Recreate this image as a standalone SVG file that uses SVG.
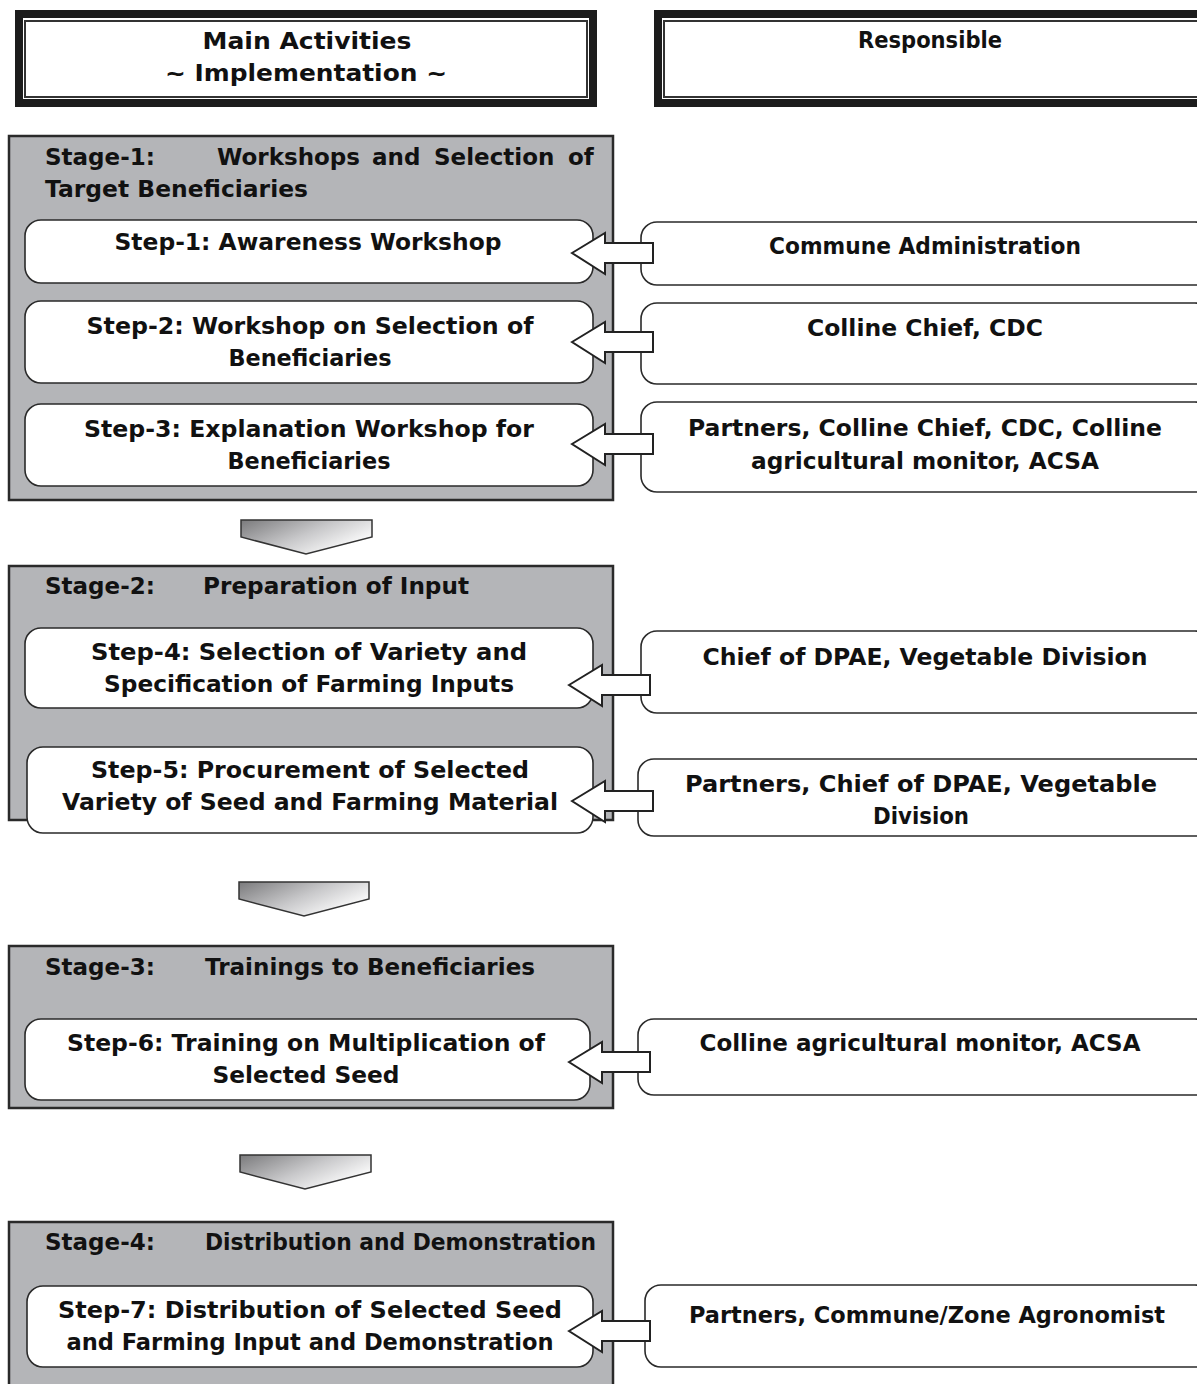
<svg xmlns="http://www.w3.org/2000/svg" width="1197" height="1384" viewBox="0 0 1197 1384">
  <defs>
    <linearGradient id="chevGrad" x1="0" y1="0" x2="1" y2="0.6">
      <stop offset="0" stop-color="#7a7a7c"/>
      <stop offset="0.55" stop-color="#c8c8ca"/>
      <stop offset="1" stop-color="#ffffff"/>
    </linearGradient>
    <style>
      .txt { font-family: "DejaVu Sans", "Liberation Sans", sans-serif; font-weight: bold; font-size: 23px; fill: #111; }
      .mid { text-anchor: middle; }
      .hdrOuter { fill: none; stroke: #1c1c1c; stroke-width: 8; }
      .hdrInner { fill: #fff; stroke: #333; stroke-width: 2; }
      .stage { fill: #b4b5b8; stroke: #2a2a2a; stroke-width: 2.5; }
      .step { fill: #fff; stroke: #2a2a2a; stroke-width: 1.6; }
      .resp { fill: #fff; stroke: #2a2a2a; stroke-width: 1.6; }
      .arrow { fill: #fff; stroke: #222; stroke-width: 2; stroke-linejoin: miter; }
      .chev { fill: url(#chevGrad); stroke: #333; stroke-width: 1.5; }
    </style>
  </defs>

  <rect width="1197" height="1384" fill="#fff"/>

  <!-- Column headers -->
  <g id="header-activities">
    <rect class="hdrOuter" x="19" y="14" width="574" height="89"/>
    <rect class="hdrInner" x="25" y="21" width="562" height="76"/>
    <text class="txt mid" x="307" y="49" textLength="209" lengthAdjust="spacingAndGlyphs">Main Activities</text>
    <text class="txt mid" x="306" y="81" textLength="282" lengthAdjust="spacingAndGlyphs">~ Implementation ~</text>
  </g>
  <g id="header-responsible">
    <rect class="hdrOuter" x="658" y="14" width="560" height="89"/>
    <rect class="hdrInner" x="664" y="21" width="548" height="76"/>
    <text class="txt mid" x="930" y="48" textLength="144" lengthAdjust="spacingAndGlyphs">Responsible</text>
  </g>

  <!-- Stage 1 -->
  <g id="stage-1">
    <rect class="stage" x="9" y="136" width="604" height="364"/>
    <text class="txt" y="165"><tspan x="45">Stage-1:</tspan><tspan x="217">Workshops</tspan><tspan x="372">and</tspan><tspan x="434">Selection</tspan><tspan x="568">of</tspan></text>
    <text class="txt" x="45" y="197" textLength="263" lengthAdjust="spacingAndGlyphs">Target Beneficiaries</text>
  </g>
  <g id="step-1">
    <rect class="step" x="25" y="220" width="568" height="63" rx="16"/>
    <text class="txt mid" x="308" y="250" textLength="387" lengthAdjust="spacingAndGlyphs">Step-1: Awareness Workshop</text>
  </g>
  <g id="step-2">
    <rect class="step" x="25" y="301" width="568" height="82" rx="16"/>
    <text class="txt mid" x="310" y="334" textLength="447" lengthAdjust="spacingAndGlyphs">Step-2: Workshop on Selection of</text>
    <text class="txt mid" x="310" y="366" textLength="163" lengthAdjust="spacingAndGlyphs">Beneficiaries</text>
  </g>
  <g id="step-3">
    <rect class="step" x="25" y="404" width="568" height="82" rx="16"/>
    <text class="txt mid" x="309" y="437" textLength="450" lengthAdjust="spacingAndGlyphs">Step-3: Explanation Workshop for</text>
    <text class="txt mid" x="309" y="469" textLength="163" lengthAdjust="spacingAndGlyphs">Beneficiaries</text>
  </g>

  <!-- Stage 2 -->
  <g id="stage-2">
    <rect class="stage" x="9" y="566" width="604" height="254"/>
    <text class="txt" y="594"><tspan x="45">Stage-2:</tspan><tspan x="203" textLength="266" lengthAdjust="spacingAndGlyphs">Preparation of Input</tspan></text>
  </g>
  <g id="step-4">
    <rect class="step" x="25" y="628" width="568" height="80" rx="16"/>
    <text class="txt mid" x="309" y="660" textLength="436" lengthAdjust="spacingAndGlyphs">Step-4: Selection of Variety and</text>
    <text class="txt mid" x="309" y="692" textLength="410" lengthAdjust="spacingAndGlyphs">Specification of Farming Inputs</text>
  </g>
  <g id="step-5">
    <rect class="step" x="27" y="747" width="566" height="86" rx="16"/>
    <text class="txt mid" x="310" y="778" textLength="438" lengthAdjust="spacingAndGlyphs">Step-5: Procurement of Selected</text>
    <text class="txt mid" x="310" y="810" textLength="496" lengthAdjust="spacingAndGlyphs">Variety of Seed and Farming Material</text>
  </g>

  <!-- Stage 3 -->
  <g id="stage-3">
    <rect class="stage" x="9" y="946" width="604" height="162"/>
    <text class="txt" y="975"><tspan x="45">Stage-3:</tspan><tspan x="205" textLength="330" lengthAdjust="spacingAndGlyphs">Trainings to Beneficiaries</tspan></text>
  </g>
  <g id="step-6">
    <rect class="step" x="25" y="1019" width="565" height="81" rx="16"/>
    <text class="txt mid" x="306" y="1051" textLength="478" lengthAdjust="spacingAndGlyphs">Step-6: Training on Multiplication of</text>
    <text class="txt mid" x="306" y="1083" textLength="187" lengthAdjust="spacingAndGlyphs">Selected Seed</text>
  </g>

  <!-- Stage 4 -->
  <g id="stage-4">
    <rect class="stage" x="9" y="1222" width="604" height="175"/>
    <text class="txt" y="1250"><tspan x="45">Stage-4:</tspan><tspan x="205" textLength="391" lengthAdjust="spacingAndGlyphs">Distribution and Demonstration</tspan></text>
  </g>
  <g id="step-7">
    <rect class="step" x="27" y="1286" width="566" height="81" rx="16"/>
    <text class="txt mid" x="310" y="1318" textLength="504" lengthAdjust="spacingAndGlyphs">Step-7: Distribution of Selected Seed</text>
    <text class="txt mid" x="310" y="1350" textLength="487" lengthAdjust="spacingAndGlyphs">and Farming Input and Demonstration</text>
  </g>

  <!-- Responsible parties -->
  <g id="resp-1">
    <rect class="resp" x="641" y="222" width="570" height="63" rx="16"/>
    <text class="txt mid" x="925" y="254" textLength="312" lengthAdjust="spacingAndGlyphs">Commune Administration</text>
  </g>
  <g id="resp-2">
    <rect class="resp" x="641" y="303" width="570" height="81" rx="16"/>
    <text class="txt mid" x="925" y="336" textLength="236" lengthAdjust="spacingAndGlyphs">Colline Chief, CDC</text>
  </g>
  <g id="resp-3">
    <rect class="resp" x="641" y="402" width="570" height="90" rx="16"/>
    <text class="txt mid" x="925" y="436" textLength="474" lengthAdjust="spacingAndGlyphs">Partners, Colline Chief, CDC, Colline</text>
    <text class="txt mid" x="925" y="469" textLength="348" lengthAdjust="spacingAndGlyphs">agricultural monitor, ACSA</text>
  </g>
  <g id="resp-4">
    <rect class="resp" x="641" y="631" width="570" height="82" rx="16"/>
    <text class="txt mid" x="925" y="665" textLength="445" lengthAdjust="spacingAndGlyphs">Chief of DPAE, Vegetable Division</text>
  </g>
  <g id="resp-5">
    <rect class="resp" x="638" y="759" width="573" height="77" rx="16"/>
    <text class="txt mid" x="921" y="792" textLength="472" lengthAdjust="spacingAndGlyphs">Partners, Chief of DPAE, Vegetable</text>
    <text class="txt mid" x="921" y="824" textLength="96" lengthAdjust="spacingAndGlyphs">Division</text>
  </g>
  <g id="resp-6">
    <rect class="resp" x="638" y="1019" width="573" height="76" rx="16"/>
    <text class="txt mid" x="920" y="1051" textLength="441" lengthAdjust="spacingAndGlyphs">Colline agricultural monitor, ACSA</text>
  </g>
  <g id="resp-7">
    <rect class="resp" x="645" y="1285" width="566" height="82" rx="16"/>
    <text class="txt mid" x="927" y="1323" textLength="476" lengthAdjust="spacingAndGlyphs">Partners, Commune/Zone Agronomist</text>
  </g>

  <!-- Connectors: block arrows from responsible parties to steps, chevrons between stages -->
  <g id="connectors">
    <polygon class="arrow" points="572,253 605,233 605,243 653,243 653,263 605,263 605,274"/>
    <polygon class="arrow" points="572,342 605,322 605,332 653,332 653,352 605,352 605,363"/>
    <polygon class="arrow" points="572,444 605,424 605,434 653,434 653,454 605,454 605,465"/>
    <polygon class="arrow" points="569,685 602,665 602,675 650,675 650,695 602,695 602,706"/>
    <polygon class="arrow" points="572,801 605,781 605,791 653,791 653,811 605,811 605,822"/>
    <polygon class="arrow" points="569,1062 602,1042 602,1052 650,1052 650,1072 602,1072 602,1083"/>
    <polygon class="arrow" points="569,1331 602,1311 602,1321 650,1321 650,1341 602,1341 602,1352"/>

    <polygon class="chev" points="241,520 372,520 372,537 306,554 241,537"/>
    <polygon class="chev" points="239,882 369,882 369,899 304,916 239,899"/>
    <polygon class="chev" points="240,1155 371,1155 371,1172 305,1189 240,1172"/>
  </g>
</svg>
